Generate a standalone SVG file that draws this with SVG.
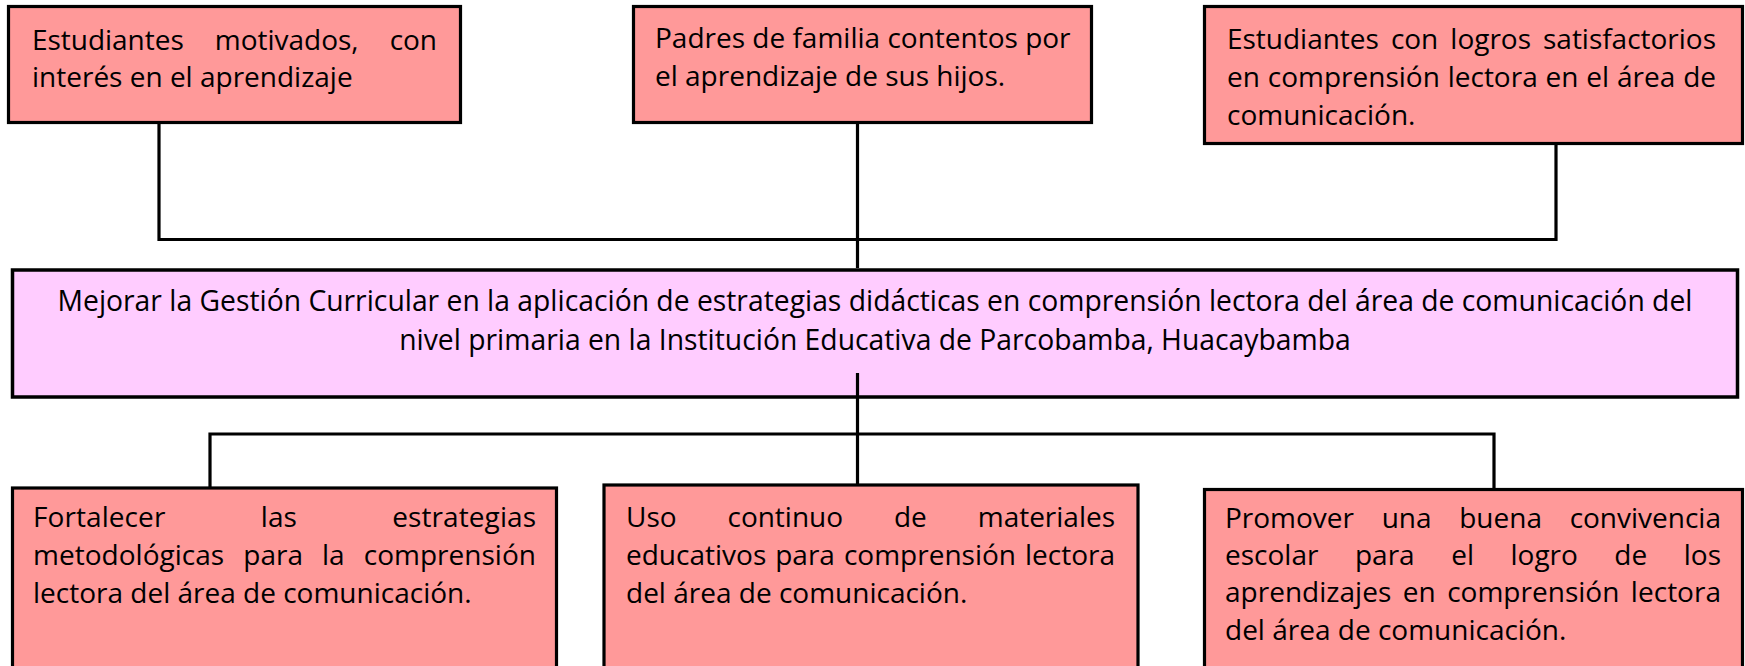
<svg xmlns="http://www.w3.org/2000/svg" width="1745" height="666" viewBox="0 0 1745 666">
<style>
.box{fill:#FF9999;stroke:#000;stroke-width:3.2}
.main{fill:#FFCCFF;stroke:#000;stroke-width:3.5}
.t{font-family:"Open Sans","Noto Sans","Liberation Sans",sans-serif;font-size:28px;fill:#000}
.m{font-size:28.3px}
.c{text-anchor:middle}
.ln{stroke:#000;stroke-width:3.2;fill:none}
</style>
<rect width="1745" height="666" fill="#fff"/>
<g id="n1">
<rect class="box" x="8.5" y="6.5" width="452" height="116"/>
<text class="t" x="32" y="50" word-spacing="23.9" textLength="405" lengthAdjust="spacing">Estudiantes motivados, con</text>
<text class="t" x="32" y="87">interés en el aprendizaje</text>
</g>
<g id="n2">
<rect class="box" x="633.5" y="6.5" width="458" height="116"/>
<text class="t" x="655" y="48">Padres de familia contentos por</text>
<text class="t" x="655" y="86">el aprendizaje de sus hijos.</text>
</g>
<g id="n3">
<rect class="box" x="1204.5" y="6.5" width="538" height="137"/>
<text class="t" x="1227" y="49" word-spacing="4.8" textLength="489" lengthAdjust="spacing">Estudiantes con logros satisfactorios</text>
<text class="t" x="1227" y="87" word-spacing="0.6" textLength="489" lengthAdjust="spacing">en comprensión lectora en el área de</text>
<text class="t" x="1227" y="125">comunicación.</text>
</g>
<g id="main">
<rect class="main" x="12.5" y="270" width="1725" height="127"/>
<text class="t m c" x="875" y="311">Mejorar la Gestión Curricular en la aplicación de estrategias didácticas en comprensión lectora del área de comunicación del</text>
<text class="t m c" x="875" y="350">nivel primaria en la Institución Educativa de Parcobamba, Huacaybamba</text>
</g>
<g id="n4">
<rect class="box" x="12.5" y="488" width="544" height="200"/>
<text class="t" x="33" y="527" word-spacing="88" textLength="503" lengthAdjust="spacing">Fortalecer las estrategias</text>
<text class="t" x="33" y="565" word-spacing="11.7" textLength="503" lengthAdjust="spacing">metodológicas para la comprensión</text>
<text class="t" x="33" y="603">lectora del área de comunicación.</text>
</g>
<g id="n5">
<rect class="box" x="604" y="485" width="534" height="200"/>
<text class="t" x="626" y="527" word-spacing="43.7" textLength="489" lengthAdjust="spacing">Uso continuo de materiales</text>
<text class="t" x="626" y="565" word-spacing="1.7" textLength="489" lengthAdjust="spacing">educativos para comprensión lectora</text>
<text class="t" x="626" y="603">del área de comunicación.</text>
</g>
<g id="n6">
<rect class="box" x="1204.5" y="489.5" width="538" height="200"/>
<text class="t" x="1225" y="528" word-spacing="20.4" textLength="496" lengthAdjust="spacing">Promover una buena convivencia</text>
<text class="t" x="1225" y="565" word-spacing="29.2" textLength="496" lengthAdjust="spacing">escolar para el logro de los</text>
<text class="t" x="1225" y="602" word-spacing="4.2" textLength="496" lengthAdjust="spacing">aprendizajes en comprensión lectora</text>
<text class="t" x="1225" y="640">del área de comunicación.</text>
</g>
<g id="connectors">
<path class="ln" d="M159 124 V239.5 H1556 V145"/>
<path class="ln" d="M857.5 124 V268"/>
<path class="ln" d="M857.5 373 V485"/>
<path class="ln" d="M210 487 V434 H1494 V488"/>
</g>
</svg>
